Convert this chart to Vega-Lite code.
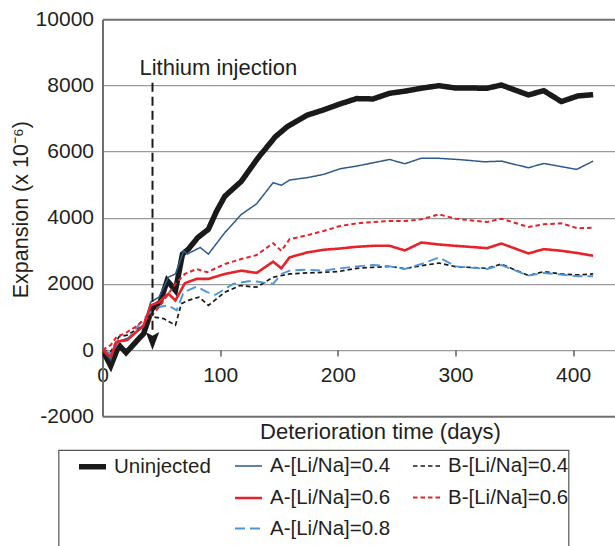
{
  "$schema": "https://vega.github.io/schema/vega-lite/v6.json",
  "autosize": "none",
  "width": 512.5,
  "height": 397,
  "padding": {"left": 102.5, "top": 19.2, "right": 0, "bottom": 129.8},
  "config": {
    "font": "Liberation Sans",
    "view": {"stroke": null},
    "axis": {"labelColor": "#231f20", "titleColor": "#231f20", "titleFontWeight": "normal", "labelFont": "Liberation Sans", "titleFont": "Liberation Sans"},
    "legend": {"strokeWidth": 1.2}
  },
  "layer": [
    {
      "data": {
        "values": [
          {"s": "Uninjected", "d": 0, "v": 0},
          {"s": "Uninjected", "d": 7, "v": -480},
          {"s": "Uninjected", "d": 14, "v": 150},
          {"s": "Uninjected", "d": 20, "v": -80},
          {"s": "Uninjected", "d": 35, "v": 500},
          {"s": "Uninjected", "d": 42, "v": 1250},
          {"s": "Uninjected", "d": 49, "v": 1450},
          {"s": "Uninjected", "d": 55, "v": 2100},
          {"s": "Uninjected", "d": 62, "v": 1800},
          {"s": "Uninjected", "d": 68, "v": 2900},
          {"s": "Uninjected", "d": 73, "v": 3050},
          {"s": "Uninjected", "d": 81, "v": 3400},
          {"s": "Uninjected", "d": 90, "v": 3650},
          {"s": "Uninjected", "d": 97, "v": 4200},
          {"s": "Uninjected", "d": 104, "v": 4650},
          {"s": "Uninjected", "d": 118, "v": 5100},
          {"s": "Uninjected", "d": 132, "v": 5800},
          {"s": "Uninjected", "d": 147, "v": 6450},
          {"s": "Uninjected", "d": 157, "v": 6750},
          {"s": "Uninjected", "d": 174, "v": 7100},
          {"s": "Uninjected", "d": 188, "v": 7260},
          {"s": "Uninjected", "d": 202, "v": 7440},
          {"s": "Uninjected", "d": 216, "v": 7600},
          {"s": "Uninjected", "d": 230, "v": 7590},
          {"s": "Uninjected", "d": 244, "v": 7760},
          {"s": "Uninjected", "d": 258, "v": 7830},
          {"s": "Uninjected", "d": 272, "v": 7920},
          {"s": "Uninjected", "d": 286, "v": 7990},
          {"s": "Uninjected", "d": 300, "v": 7920},
          {"s": "Uninjected", "d": 327, "v": 7915},
          {"s": "Uninjected", "d": 339, "v": 8010},
          {"s": "Uninjected", "d": 362, "v": 7710},
          {"s": "Uninjected", "d": 375, "v": 7840},
          {"s": "Uninjected", "d": 390, "v": 7510},
          {"s": "Uninjected", "d": 404, "v": 7680},
          {"s": "Uninjected", "d": 417, "v": 7720},

          {"s": "A-[Li/Na]=0.4", "d": 0, "v": 0},
          {"s": "A-[Li/Na]=0.4", "d": 7, "v": -300},
          {"s": "A-[Li/Na]=0.4", "d": 12, "v": 250},
          {"s": "A-[Li/Na]=0.4", "d": 21, "v": 350},
          {"s": "A-[Li/Na]=0.4", "d": 35, "v": 700},
          {"s": "A-[Li/Na]=0.4", "d": 41, "v": 1450},
          {"s": "A-[Li/Na]=0.4", "d": 48, "v": 1600},
          {"s": "A-[Li/Na]=0.4", "d": 56, "v": 2200},
          {"s": "A-[Li/Na]=0.4", "d": 62, "v": 2300},
          {"s": "A-[Li/Na]=0.4", "d": 69, "v": 3000},
          {"s": "A-[Li/Na]=0.4", "d": 72, "v": 2900},
          {"s": "A-[Li/Na]=0.4", "d": 83, "v": 3100},
          {"s": "A-[Li/Na]=0.4", "d": 90, "v": 2900},
          {"s": "A-[Li/Na]=0.4", "d": 104, "v": 3550},
          {"s": "A-[Li/Na]=0.4", "d": 118, "v": 4100},
          {"s": "A-[Li/Na]=0.4", "d": 131, "v": 4420},
          {"s": "A-[Li/Na]=0.4", "d": 145, "v": 5060},
          {"s": "A-[Li/Na]=0.4", "d": 152, "v": 4980},
          {"s": "A-[Li/Na]=0.4", "d": 159, "v": 5140},
          {"s": "A-[Li/Na]=0.4", "d": 174, "v": 5210},
          {"s": "A-[Li/Na]=0.4", "d": 188, "v": 5310},
          {"s": "A-[Li/Na]=0.4", "d": 202, "v": 5480},
          {"s": "A-[Li/Na]=0.4", "d": 216, "v": 5560},
          {"s": "A-[Li/Na]=0.4", "d": 230, "v": 5660},
          {"s": "A-[Li/Na]=0.4", "d": 244, "v": 5760},
          {"s": "A-[Li/Na]=0.4", "d": 257, "v": 5630},
          {"s": "A-[Li/Na]=0.4", "d": 271, "v": 5800},
          {"s": "A-[Li/Na]=0.4", "d": 286, "v": 5795},
          {"s": "A-[Li/Na]=0.4", "d": 302, "v": 5760},
          {"s": "A-[Li/Na]=0.4", "d": 325, "v": 5690},
          {"s": "A-[Li/Na]=0.4", "d": 339, "v": 5710},
          {"s": "A-[Li/Na]=0.4", "d": 362, "v": 5510},
          {"s": "A-[Li/Na]=0.4", "d": 375, "v": 5640},
          {"s": "A-[Li/Na]=0.4", "d": 403, "v": 5460},
          {"s": "A-[Li/Na]=0.4", "d": 417, "v": 5710},

          {"s": "B-[Li/Na]=0.4", "d": 0, "v": 0},
          {"s": "B-[Li/Na]=0.4", "d": 7, "v": -50},
          {"s": "B-[Li/Na]=0.4", "d": 14, "v": 400},
          {"s": "B-[Li/Na]=0.4", "d": 21, "v": 450},
          {"s": "B-[Li/Na]=0.4", "d": 35, "v": 750},
          {"s": "B-[Li/Na]=0.4", "d": 41, "v": 1150},
          {"s": "B-[Li/Na]=0.4", "d": 43, "v": 1000},
          {"s": "B-[Li/Na]=0.4", "d": 52, "v": 950},
          {"s": "B-[Li/Na]=0.4", "d": 62, "v": 750},
          {"s": "B-[Li/Na]=0.4", "d": 67, "v": 1400},
          {"s": "B-[Li/Na]=0.4", "d": 73, "v": 1500},
          {"s": "B-[Li/Na]=0.4", "d": 82, "v": 1600},
          {"s": "B-[Li/Na]=0.4", "d": 90, "v": 1350},
          {"s": "B-[Li/Na]=0.4", "d": 104, "v": 1750},
          {"s": "B-[Li/Na]=0.4", "d": 117, "v": 1950},
          {"s": "B-[Li/Na]=0.4", "d": 131, "v": 1900},
          {"s": "B-[Li/Na]=0.4", "d": 145, "v": 2200},
          {"s": "B-[Li/Na]=0.4", "d": 159, "v": 2300},
          {"s": "B-[Li/Na]=0.4", "d": 174, "v": 2330},
          {"s": "B-[Li/Na]=0.4", "d": 188, "v": 2350},
          {"s": "B-[Li/Na]=0.4", "d": 200, "v": 2370},
          {"s": "B-[Li/Na]=0.4", "d": 216, "v": 2470},
          {"s": "B-[Li/Na]=0.4", "d": 230, "v": 2500},
          {"s": "B-[Li/Na]=0.4", "d": 244, "v": 2530},
          {"s": "B-[Li/Na]=0.4", "d": 257, "v": 2460},
          {"s": "B-[Li/Na]=0.4", "d": 271, "v": 2550},
          {"s": "B-[Li/Na]=0.4", "d": 286, "v": 2630},
          {"s": "B-[Li/Na]=0.4", "d": 300, "v": 2520},
          {"s": "B-[Li/Na]=0.4", "d": 327, "v": 2470},
          {"s": "B-[Li/Na]=0.4", "d": 339, "v": 2600},
          {"s": "B-[Li/Na]=0.4", "d": 362, "v": 2250},
          {"s": "B-[Li/Na]=0.4", "d": 375, "v": 2370},
          {"s": "B-[Li/Na]=0.4", "d": 390, "v": 2300},
          {"s": "B-[Li/Na]=0.4", "d": 404, "v": 2270},
          {"s": "B-[Li/Na]=0.4", "d": 417, "v": 2300},

          {"s": "A-[Li/Na]=0.8", "d": 0, "v": 0},
          {"s": "A-[Li/Na]=0.8", "d": 7, "v": -100},
          {"s": "A-[Li/Na]=0.8", "d": 14, "v": 250},
          {"s": "A-[Li/Na]=0.8", "d": 21, "v": 300},
          {"s": "A-[Li/Na]=0.8", "d": 35, "v": 950},
          {"s": "A-[Li/Na]=0.8", "d": 41, "v": 1150},
          {"s": "A-[Li/Na]=0.8", "d": 48, "v": 1300},
          {"s": "A-[Li/Na]=0.8", "d": 56, "v": 1350},
          {"s": "A-[Li/Na]=0.8", "d": 63, "v": 1200},
          {"s": "A-[Li/Na]=0.8", "d": 69, "v": 1750},
          {"s": "A-[Li/Na]=0.8", "d": 80, "v": 1920},
          {"s": "A-[Li/Na]=0.8", "d": 89, "v": 1750},
          {"s": "A-[Li/Na]=0.8", "d": 96, "v": 1670},
          {"s": "A-[Li/Na]=0.8", "d": 111, "v": 2000},
          {"s": "A-[Li/Na]=0.8", "d": 124, "v": 2080},
          {"s": "A-[Li/Na]=0.8", "d": 131, "v": 2070},
          {"s": "A-[Li/Na]=0.8", "d": 145, "v": 2000},
          {"s": "A-[Li/Na]=0.8", "d": 152, "v": 2300},
          {"s": "A-[Li/Na]=0.8", "d": 159, "v": 2400},
          {"s": "A-[Li/Na]=0.8", "d": 174, "v": 2430},
          {"s": "A-[Li/Na]=0.8", "d": 188, "v": 2400},
          {"s": "A-[Li/Na]=0.8", "d": 202, "v": 2470},
          {"s": "A-[Li/Na]=0.8", "d": 216, "v": 2530},
          {"s": "A-[Li/Na]=0.8", "d": 230, "v": 2570},
          {"s": "A-[Li/Na]=0.8", "d": 244, "v": 2530},
          {"s": "A-[Li/Na]=0.8", "d": 257, "v": 2450},
          {"s": "A-[Li/Na]=0.8", "d": 271, "v": 2600},
          {"s": "A-[Li/Na]=0.8", "d": 286, "v": 2800},
          {"s": "A-[Li/Na]=0.8", "d": 300, "v": 2530},
          {"s": "A-[Li/Na]=0.8", "d": 327, "v": 2450},
          {"s": "A-[Li/Na]=0.8", "d": 339, "v": 2570},
          {"s": "A-[Li/Na]=0.8", "d": 362, "v": 2250},
          {"s": "A-[Li/Na]=0.8", "d": 375, "v": 2330},
          {"s": "A-[Li/Na]=0.8", "d": 404, "v": 2230},
          {"s": "A-[Li/Na]=0.8", "d": 417, "v": 2230},

          {"s": "A-[Li/Na]=0.6", "d": 0, "v": 0},
          {"s": "A-[Li/Na]=0.6", "d": 7, "v": -200},
          {"s": "A-[Li/Na]=0.6", "d": 12, "v": 250},
          {"s": "A-[Li/Na]=0.6", "d": 21, "v": 300},
          {"s": "A-[Li/Na]=0.6", "d": 35, "v": 750},
          {"s": "A-[Li/Na]=0.6", "d": 41, "v": 1350},
          {"s": "A-[Li/Na]=0.6", "d": 48, "v": 1450},
          {"s": "A-[Li/Na]=0.6", "d": 56, "v": 1700},
          {"s": "A-[Li/Na]=0.6", "d": 62, "v": 1500},
          {"s": "A-[Li/Na]=0.6", "d": 70, "v": 2020},
          {"s": "A-[Li/Na]=0.6", "d": 80, "v": 2150},
          {"s": "A-[Li/Na]=0.6", "d": 90, "v": 2150},
          {"s": "A-[Li/Na]=0.6", "d": 104, "v": 2300},
          {"s": "A-[Li/Na]=0.6", "d": 118, "v": 2400},
          {"s": "A-[Li/Na]=0.6", "d": 131, "v": 2330},
          {"s": "A-[Li/Na]=0.6", "d": 145, "v": 2670},
          {"s": "A-[Li/Na]=0.6", "d": 152, "v": 2470},
          {"s": "A-[Li/Na]=0.6", "d": 159, "v": 2800},
          {"s": "A-[Li/Na]=0.6", "d": 174, "v": 2950},
          {"s": "A-[Li/Na]=0.6", "d": 188, "v": 3030},
          {"s": "A-[Li/Na]=0.6", "d": 202, "v": 3070},
          {"s": "A-[Li/Na]=0.6", "d": 216, "v": 3120},
          {"s": "A-[Li/Na]=0.6", "d": 230, "v": 3150},
          {"s": "A-[Li/Na]=0.6", "d": 244, "v": 3150},
          {"s": "A-[Li/Na]=0.6", "d": 257, "v": 3010},
          {"s": "A-[Li/Na]=0.6", "d": 271, "v": 3250},
          {"s": "A-[Li/Na]=0.6", "d": 286, "v": 3190},
          {"s": "A-[Li/Na]=0.6", "d": 300, "v": 3150},
          {"s": "A-[Li/Na]=0.6", "d": 327, "v": 3080},
          {"s": "A-[Li/Na]=0.6", "d": 339, "v": 3220},
          {"s": "A-[Li/Na]=0.6", "d": 362, "v": 2920},
          {"s": "A-[Li/Na]=0.6", "d": 375, "v": 3050},
          {"s": "A-[Li/Na]=0.6", "d": 390, "v": 3000},
          {"s": "A-[Li/Na]=0.6", "d": 404, "v": 2930},
          {"s": "A-[Li/Na]=0.6", "d": 417, "v": 2850},

          {"s": "B-[Li/Na]=0.6", "d": 0, "v": 0},
          {"s": "B-[Li/Na]=0.6", "d": 7, "v": 150},
          {"s": "B-[Li/Na]=0.6", "d": 12, "v": 400},
          {"s": "B-[Li/Na]=0.6", "d": 19, "v": 500},
          {"s": "B-[Li/Na]=0.6", "d": 28, "v": 700},
          {"s": "B-[Li/Na]=0.6", "d": 35, "v": 900},
          {"s": "B-[Li/Na]=0.6", "d": 42, "v": 1050},
          {"s": "B-[Li/Na]=0.6", "d": 48, "v": 1300},
          {"s": "B-[Li/Na]=0.6", "d": 56, "v": 1700},
          {"s": "B-[Li/Na]=0.6", "d": 62, "v": 2000},
          {"s": "B-[Li/Na]=0.6", "d": 70, "v": 2300},
          {"s": "B-[Li/Na]=0.6", "d": 80, "v": 2450},
          {"s": "B-[Li/Na]=0.6", "d": 89, "v": 2350},
          {"s": "B-[Li/Na]=0.6", "d": 104, "v": 2600},
          {"s": "B-[Li/Na]=0.6", "d": 118, "v": 2750},
          {"s": "B-[Li/Na]=0.6", "d": 131, "v": 2870},
          {"s": "B-[Li/Na]=0.6", "d": 145, "v": 3230},
          {"s": "B-[Li/Na]=0.6", "d": 152, "v": 3000},
          {"s": "B-[Li/Na]=0.6", "d": 159, "v": 3350},
          {"s": "B-[Li/Na]=0.6", "d": 174, "v": 3470},
          {"s": "B-[Li/Na]=0.6", "d": 188, "v": 3600},
          {"s": "B-[Li/Na]=0.6", "d": 202, "v": 3750},
          {"s": "B-[Li/Na]=0.6", "d": 216, "v": 3830},
          {"s": "B-[Li/Na]=0.6", "d": 230, "v": 3870},
          {"s": "B-[Li/Na]=0.6", "d": 244, "v": 3900},
          {"s": "B-[Li/Na]=0.6", "d": 257, "v": 3900},
          {"s": "B-[Li/Na]=0.6", "d": 271, "v": 3950},
          {"s": "B-[Li/Na]=0.6", "d": 286, "v": 4100},
          {"s": "B-[Li/Na]=0.6", "d": 300, "v": 3970},
          {"s": "B-[Li/Na]=0.6", "d": 327, "v": 3870},
          {"s": "B-[Li/Na]=0.6", "d": 339, "v": 3970},
          {"s": "B-[Li/Na]=0.6", "d": 362, "v": 3720},
          {"s": "B-[Li/Na]=0.6", "d": 375, "v": 3800},
          {"s": "B-[Li/Na]=0.6", "d": 390, "v": 3830},
          {"s": "B-[Li/Na]=0.6", "d": 404, "v": 3680},
          {"s": "B-[Li/Na]=0.6", "d": 417, "v": 3700}
        ]
      },
      "mark": {"type": "line", "clip": true},
      "encoding": {
        "x": {
          "field": "d", "type": "quantitative",
          "scale": {"domain": [0, 435.6], "nice": false, "zero": false},
          "axis": {
            "values": [0, 100, 200, 300, 400],
            "offset": -66.2,
            "domain": false,
            "grid": false,
            "tickSize": 6,
            "tickColor": "#555555",
            "tickWidth": 1.4,
            "labelFontSize": 21,
            "labelPadding": 8,
            "labelFlush": false,
            "labelOverlap": false,
            "labelExpr": "'' + datum.value",
            "title": "Deterioration time (days)",
            "titleFontSize": 22,
            "titleX": 277.5,
            "titleY": 88.3,
            "titleAlign": "center",
            "titleBaseline": "alphabetic"
          }
        },
        "y": {
          "field": "v", "type": "quantitative",
          "scale": {"domain": [-2000, 10000], "nice": false, "zero": false},
          "axis": {
            "values": [-2000, 0, 2000, 4000, 6000, 8000, 10000],
            "domain": true,
            "domainColor": "#6f6f6f",
            "domainWidth": 2,
            "ticks": false,
            "tickSize": 0,
            "grid": true,
            "gridColor": {"condition": {"test": "datum.value === 10000 || datum.value === -2000", "value": "#6f6f6f"}, "value": "#9a9a9a"},
            "gridWidth": {"condition": {"test": "datum.value === 10000 || datum.value === -2000", "value": 2}, "value": 1.2},
            "labelFontSize": 21,
            "labelPadding": 9,
            "labelFlush": false,
            "labelOverlap": false,
            "labelExpr": "'' + datum.value",
            "title": "Expansion (x 10⁻⁶)",
            "titleFontSize": 21.5,
            "titleX": -75.5,
            "titleY": 190,
            "titleAngle": -90,
            "titleAlign": "center",
            "titleBaseline": "alphabetic"
          }
        },
        "color": {
          "field": "s", "type": "nominal",
          "scale": {
            "domain": ["Uninjected", "A-[Li/Na]=0.4", "B-[Li/Na]=0.4", "_1", "A-[Li/Na]=0.6", "B-[Li/Na]=0.6", "_2", "A-[Li/Na]=0.8", "_3", "_4"],
            "range": ["#1a1a1a", "#2d5a8b", "#1a1a1a", "transparent", "#e6222a", "#e6222a", "transparent", "#4f96d8", "transparent", "transparent"]
          },
          "legend": {
            "orient": "none",
            "direction": "horizontal",
            "legendX": -44,
            "legendY": 430.8,
            "columns": 3,
            "columnPadding": 18,
            "rowPadding": 5,
            "padding": 0,
            "symbolType": "stroke",
            "symbolSize": 729,
            "labelFontSize": 20.5,
            "labelColor": "#231f20",
            "labelOffset": 5,
            "labelLimit": 500,
            "labelExpr": "indexof(datum.label, '_') == 0 ? '' : (indexof(datum.label, 'B-') == 0 ? datum.label + '                    ' : datum.label)",
            "strokeColor": "#555555",
            "title": " ",
            "titleOrient": "left",
            "titleFontSize": 1,
            "titlePadding": 17.5,
            "encode": {"symbols": {"update": {"strokeWidth": {"scale": "strokeWidth", "field": "value"}}}}
          }
        },
        "strokeDash": {
          "field": "s", "type": "nominal",
          "scale": {
            "type": "ordinal",
            "domain": ["Uninjected", "A-[Li/Na]=0.4", "B-[Li/Na]=0.4", "_1", "A-[Li/Na]=0.6", "B-[Li/Na]=0.6", "_2", "A-[Li/Na]=0.8", "_3", "_4"],
            "range": [[1, 0], [1, 0], [4.5, 3], [1, 0], [1, 0], [4.5, 3], [1, 0], [10, 5], [1, 0], [1, 0]]
          }
        },
        "strokeWidth": {
          "field": "s", "type": "nominal",
          "scale": {
            "type": "ordinal",
            "domain": ["Uninjected", "A-[Li/Na]=0.4", "B-[Li/Na]=0.4", "_1", "A-[Li/Na]=0.6", "B-[Li/Na]=0.6", "_2", "A-[Li/Na]=0.8", "_3", "_4"],
            "range": [5.5, 1.5, 1.7, 0, 2.6, 2, 0, 1.9, 0, 0]
          }
        }
      }
    },
    {
      "data": {"values": [{}]},
      "mark": {"type": "rule", "color": "#1a1a1a", "strokeWidth": 2, "strokeDash": [9, 5]},
      "encoding": {
        "x": {"datum": 42.5, "type": "quantitative"},
        "y": {"datum": 8076, "type": "quantitative"},
        "y2": {"datum": 500}
      }
    },
    {
      "data": {"values": [{}]},
      "mark": {"type": "point", "shape": "M-0.75,-1 L0,-0.6 L0.75,-1 L0,1 Z", "filled": true, "color": "#1a1a1a", "opacity": 1, "size": 324, "strokeWidth": 0},
      "encoding": {
        "x": {"datum": 42.5, "type": "quantitative"},
        "y": {"datum": 272, "type": "quantitative"}
      }
    },
    {
      "data": {"values": [{}]},
      "mark": {"type": "text", "text": "Lithium injection", "align": "left", "baseline": "alphabetic", "fontSize": 22, "color": "#231f20", "font": "Liberation Sans"},
      "encoding": {
        "x": {"datum": 31.4, "type": "quantitative"},
        "y": {"datum": 8308, "type": "quantitative"}
      }
    }
  ]
}
